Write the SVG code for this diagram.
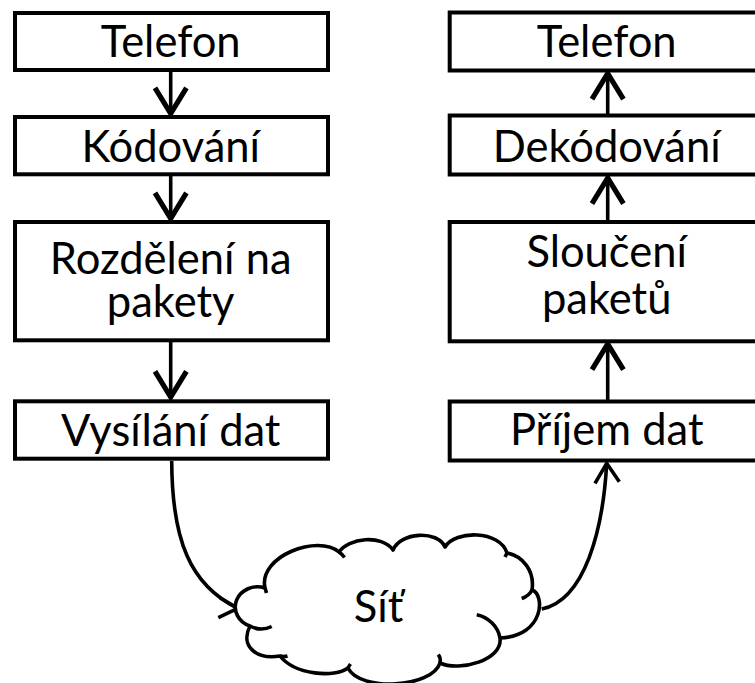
<svg xmlns="http://www.w3.org/2000/svg" width="755" height="683" viewBox="0 0 755 683">
<defs>
<style>
.box{fill:#fff;stroke:#000;stroke-width:4}
.t{font-family:Lato,"Liberation Sans",sans-serif;font-size:43.5px;fill:#000;text-anchor:middle}
.ln{fill:none;stroke:#000;stroke-width:3.6}
.head{fill:none;stroke:#000;stroke-width:3.6;stroke-linejoin:miter}
.cloud{fill:#fff;stroke:#000;stroke-width:3.6;stroke-linejoin:round}
.stub{fill:none;stroke:#000;stroke-width:3.6}
</style>
<marker id="arr" markerUnits="userSpaceOnUse" markerWidth="40" markerHeight="40" viewBox="-22 -14 26 28" refX="0" refY="0" orient="auto" overflow="visible">
<path d="M-18,-11 L0,0 L-18,11" fill="none" stroke="#000" stroke-width="3.6"/>
</marker>
</defs>
<rect width="755" height="683" fill="#fff"/>
<g id="connectors">
<line class="ln" x1="170.7" y1="71" x2="170.7" y2="113.5" marker-end="url(#arr)"/>
<line class="ln" x1="170.7" y1="176" x2="170.7" y2="218.5" marker-end="url(#arr)"/>
<line class="ln" x1="170.7" y1="342" x2="170.7" y2="397" marker-end="url(#arr)"/>
<line class="ln" x1="607.7" y1="114" x2="607.7" y2="73.5" marker-end="url(#arr)"/>
<line class="ln" x1="607.7" y1="220" x2="607.7" y2="178" marker-end="url(#arr)"/>
<line class="ln" x1="607.7" y1="400" x2="607.7" y2="344" marker-end="url(#arr)"/>
<path class="ln" d="M171.7,461 C172,540 190,585 237.7,608.3"/>
<polyline class="head" points="220,597.7 237.7,608.3 218.3,617.7"/>
<path class="ln" d="M541.7,609 C585,600 603,530 606.7,463.3"/>
<polyline class="head" points="595,483.3 606.7,463.3 619.3,481.7"/>
</g>
<g id="n-telefon-l"><rect class="box" x="15" y="13" width="313" height="57"/><text class="t" x="170.7" y="56.7">Telefon</text></g>
<g id="n-kodovani"><rect class="box" x="15" y="117" width="313" height="57.3"/><text class="t" x="170.7" y="161.7">Kódování</text></g>
<g id="n-rozdeleni"><rect class="box" x="15" y="222" width="313" height="118.3"/><text class="t" x="170.7" y="274"><tspan x="170.7" y="274">Rozdělení na</tspan><tspan x="170.7" y="316.7">pakety</tspan></text></g>
<g id="n-vysilani"><rect class="box" x="15" y="401.3" width="313" height="57.4"/><text class="t" x="170.7" y="446">Vysílání dat</text></g>
<g id="n-telefon-r"><rect class="box" x="449.7" y="12.5" width="320" height="58"/><text class="t" x="606.7" y="56.7">Telefon</text></g>
<g id="n-dekodovani"><rect class="box" x="449.7" y="115.5" width="320" height="59"/><text class="t" x="606.7" y="161.7">Dekódování</text></g>
<g id="n-slouceni"><rect class="box" x="449.7" y="222" width="320" height="119.3"/><text class="t" x="606.7" y="266.5"><tspan x="606.7" y="266.5">Sloučení</tspan><tspan x="606.7" y="314">paketů</tspan></text></g>
<g id="n-prijem"><rect class="box" x="449.7" y="401.5" width="320" height="59"/><text class="t" x="606.7" y="444.5">Příjem dat</text></g>
<g id="n-sit">
<path class="cloud" d="M250,626 A22,20 0 0 1 265,588 C258,556 318,534 339,552 C348,538 382,534 393,550 C400,532 438,530 445,547 C455,530 500,530 507,553 C522,556 535,570 532,590 C545,594 545,636 500,638 C503,660 460,672 440,663 C432,688 360,692 348,668 C335,678 295,675 280,656 C255,660 240,645 250,626 Z"/>
<path class="stub" d="M250,626 A22,20 0 0 0 271.7,626.5"/>
<path class="stub" d="M339,552 Q342,554 344.5,557.5"/>
<path class="stub" d="M507,553 Q506,555 505,557"/>
<path class="stub" d="M532,590 Q529,596 521.7,598.5"/>
<path class="stub" d="M500,638 C498,626 488,617 476.7,614.7"/>
<path class="stub" d="M440,663 Q441,658 438.3,654.5"/>
<path class="stub" d="M348,668 Q349,666 350.5,664"/>
<path class="stub" d="M280,656 Q284,657 287.5,656"/>
<path class="stub" d="M265,588 Q266,591 266.5,593"/>
<text class="t" x="378.5" y="621.7">Síť</text>
</g>
</svg>
